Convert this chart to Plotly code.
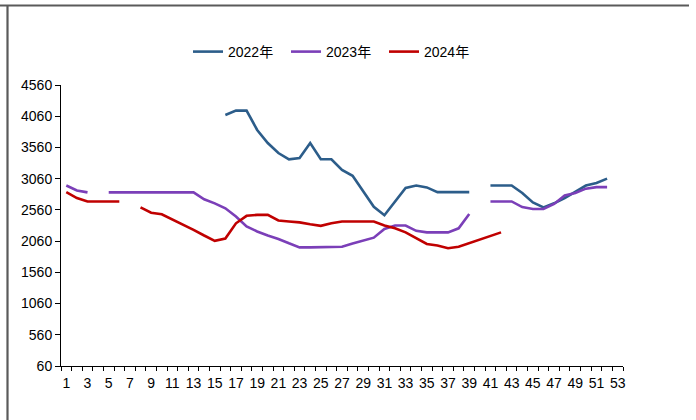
import plotly.graph_objects as go

# Week numbers on the category axis
weeks = list(range(1, 54))
week_labels = [str(w) for w in range(1, 54, 2)]

# Weekly prices per year (None = no quote that week)
prices_2022 = [None] * 15 + [
    4080, 4150, 4150, 3840, 3630, 3470, 3370, 3390, 3630, 3370,   # 16-25
    3370, 3200, 3105, 2850, 2610, 2475, 2690, 2910, 2950, 2920,   # 26-35
    2845, 2845, 2845, 2845, None, 2950, 2950, 2950, 2830, 2680,   # 36-45
    2600, 2665, 2750, 2855, 2950, 2990, 3060, None,               # 46-53
]

prices_2023 = [
    2950, 2870, 2840, None, 2840, 2840, 2840, 2840, 2840, 2840,   # 1-10
    2840, 2840, 2840, 2730, 2665, 2585, 2455, 2295, 2215, 2150,   # 11-20
    2095, 2025, 1960, 1960, 1960, 1960, 1970, 2020, 2065, 2115,   # 21-30
    2255, 2310, 2310, 2225, 2200, 2200, 2200, 2265, 2495, None,   # 31-40
    2695, 2695, 2695, 2605, 2575, 2575, 2655, 2790, 2830, 2900,   # 41-50
    2925, 2925, None,                                             # 51-53
]

prices_2024 = [
    2845, 2750, 2695, 2695, 2695, 2695, None, 2600, 2515, 2490,   # 1-10
    2410, 2330, 2240, 2150, 2065, 2100, 2345, 2465, 2480, 2480,   # 11-20
    2390, 2375, 2360, 2330, 2305, 2345, 2375, 2375, 2375, 2375,   # 21-30
    2310, 2265, 2200, 2105, 2015, 1990, 1945, 1970, 2025, 2090,   # 31-40
    2135, 2200,                                                   # 41-42
] + [None] * 11

y_ticks = list(range(60, 4561, 500))

series = [
    ("2022年", prices_2022, "#2C5D8A"),
    ("2023年", prices_2023, "#7B3FB8"),
    ("2024年", prices_2024, "#C00000"),
]

fig = go.Figure()
for name, vals, color in series:
    fig.add_trace(go.Scatter(
        x=weeks, y=vals, name=name, mode="lines",
        line=dict(color=color, width=2.6),
        connectgaps=False,
    ))

font_family = "Liberation Sans, Arial, Noto Sans CJK SC, sans-serif"

# Plot-area geometry in pixels, used to place the outer frame lines
W, H = 696, 420
L, R, T, B = 61, 73, 85, 54
pw, ph = W - L - R, H - T - B

def px_x(px):
    return (px - L) / pw

def px_y(py):
    return (H - B - py) / ph

frame = dict(color="#5A5A5A", width=2.2)
shapes = [
    dict(type="line", xref="paper", yref="paper",
         x0=px_x(0), x1=px_x(689), y0=px_y(5.5), y1=px_y(5.5), line=frame),
    dict(type="line", xref="paper", yref="paper",
         x0=px_x(7.5), x1=px_x(7.5), y0=px_y(5.5), y1=px_y(421), line=frame),
]

fig.update_layout(
    width=W, height=H,
    margin=dict(l=L, r=R, t=T, b=B),
    paper_bgcolor="white", plot_bgcolor="white",
    font=dict(family=font_family, size=14, color="#000000"),
    showlegend=True,
    legend=dict(
        orientation="h", x=px_x(335), xanchor="center", y=px_y(52), yanchor="middle",
        font=dict(size=14), bgcolor="rgba(0,0,0,0)",
        entrywidth=53, entrywidthmode="pixels",
    ),
    shapes=shapes,
    xaxis=dict(
        range=[0.5, 53.5],
        tickmode="array",
        tickvals=list(range(1, 54, 2)),
        ticktext=week_labels,
        ticks="outside", ticklen=4, tickcolor="rgba(0,0,0,0)",
        showline=True, linecolor="#000000", linewidth=1,
        showgrid=False, zeroline=False,
        tickfont=dict(size=14),
        minor=dict(tickmode="linear", tick0=0.5, dtick=1, ticks="outside",
                   ticklen=4, tickcolor="#000000", tickwidth=1, showgrid=False),
    ),
    yaxis=dict(
        range=[60, 4560],
        tickmode="array", tickvals=y_ticks,
        ticks="outside", ticklen=5, tickcolor="#000000",
        showline=True, linecolor="#000000", linewidth=1,
        showgrid=False, zeroline=False,
        tickfont=dict(size=14),
    ),
)

fig.write_html("out.html")
